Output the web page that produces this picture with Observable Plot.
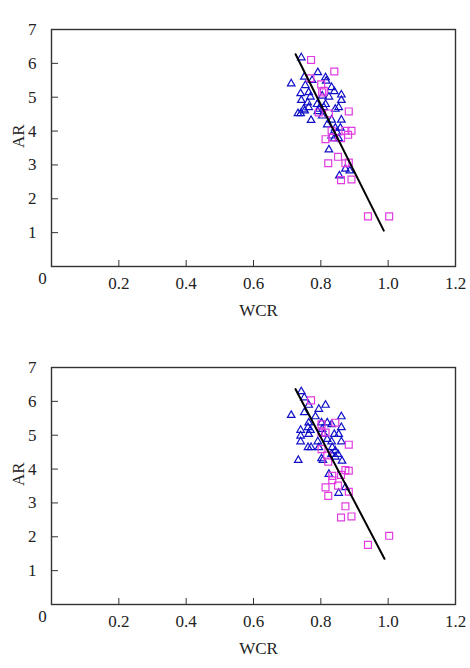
<!DOCTYPE html>
<html>
<head>
<meta charset="utf-8">
<script src="https://cdn.jsdelivr.net/npm/d3@7"></script>
<script src="https://cdn.jsdelivr.net/npm/@observablehq/plot@0.6"></script>
<style>
  html, body { margin: 0; padding: 0; background: #fff; }
  #wrap { position: relative; width: 470px; height: 668px; overflow: hidden; font-family: "Liberation Serif", serif; color: #222; }
  .panel { position: absolute; left: 0; }
  .plabel { position: absolute; left: 2px; font-size: 17px; }
</style>
</head>
<body>
<div id="wrap">
  <div class="plabel" style="top:4px">(<i>a</i>)</div>
  <div class="panel" id="pa" style="top:0px"></div>
  <div class="plabel" style="top:341px">(<i>b</i>)</div>
  <div class="panel" id="pb" style="top:338px"></div>
</div>
<script>
// ---- tick labels / titles ----
const xTicks = [0.2, 0.4, 0.6, 0.8, 1.0, 1.2];
const yTicks = [1, 2, 3, 4, 5, 6, 7];
const zeroTick = [0];
const xTitle = ["WCR"];
const yTitle = ["AR"];

// ---- panel (a) ----
const aTriX = [0.742,0.791,0.751,0.814,0.712,0.754,0.774,0.816,0.832,0.840,0.861,0.740,0.764,0.769,0.742,0.804,0.824,0.861,0.761,0.789,0.814,0.749,0.764,0.794,0.809,0.843,0.853,0.732,0.740,0.752,0.791,0.804,0.771,0.832,0.861,0.819,0.843,0.858,0.848,0.832,0.840,0.853,0.824,0.873,0.886,0.855];
const aTriY = [6.17,5.73,5.60,5.58,5.40,5.35,5.50,5.48,5.29,5.17,5.07,5.11,5.14,5.01,4.91,5.04,5.01,4.91,4.84,4.79,4.79,4.65,4.70,4.65,4.70,4.65,4.70,4.52,4.52,4.60,4.58,4.45,4.32,4.33,4.33,4.19,4.09,4.09,3.96,3.86,3.78,3.78,3.45,2.88,2.83,2.68];
const aSqX = [0.771,0.840,0.801,0.769,0.804,0.809,0.824,0.794,0.883,0.832,0.873,0.891,0.881,0.834,0.860,0.814,0.851,0.822,0.873,0.883,0.860,0.891,0.940,1.003];
const aSqY = [6.10,5.76,5.38,5.56,5.14,5.19,4.52,4.55,4.58,4.01,4.01,4.01,3.89,3.81,3.79,3.76,3.24,3.05,3.05,3.07,2.55,2.57,1.48,1.48];
const aLineX = [0.725, 0.987];
const aLineY = [6.27, 1.06];

// ---- panel (b) ----
const bTriX = [0.742,0.751,0.764,0.814,0.712,0.751,0.784,0.794,0.861,0.764,0.802,0.819,0.832,0.762,0.740,0.769,0.804,0.861,0.740,0.764,0.809,0.840,0.853,0.740,0.791,0.819,0.832,0.861,0.762,0.771,0.794,0.834,0.843,0.832,0.851,0.802,0.806,0.843,0.863,0.733,0.824,0.873,0.853];
const bTriY = [6.29,6.11,5.89,5.89,5.59,5.67,5.55,5.77,5.55,5.37,5.37,5.37,5.32,5.23,5.15,5.15,5.18,5.23,4.98,5.03,5.03,5.03,5.03,4.81,4.81,4.88,4.81,4.81,4.64,4.64,4.64,4.64,4.54,4.44,4.44,4.31,4.26,4.36,4.24,4.26,3.85,3.46,3.29];
const bSqX = [0.771,0.843,0.802,0.802,0.814,0.883,0.802,0.819,0.822,0.873,0.883,0.860,0.834,0.834,0.814,0.851,0.822,0.883,0.873,0.860,0.891,1.003,0.940];
const bSqY = [6.03,5.37,5.32,5.08,5.08,4.72,4.59,4.40,4.22,3.97,3.95,3.83,3.80,3.67,3.46,3.51,3.21,3.33,2.90,2.57,2.60,2.03,1.76];
const bLineX = [0.725, 0.989];
const bLineY = [6.36, 1.35];

const triColor = "#1010c8";
const sqColor = "#e03ce0";
const ink = "#333";
const font = "'Liberation Serif', serif";

function toRows(xs, ys) { return xs.map((x, i) => ({x, y: ys[i]})); }

function panel(tri, sq, line, height) {
  return Plot.plot({
    width: 470,
    height,
    marginTop: 29,
    marginBottom: height - 266,
    marginLeft: 51,
    marginRight: 15,
    x: {domain: [0, 1.2]},
    y: {domain: [0, 7]},
    style: {fontFamily: font, fontSize: "17px", color: "#222", background: "white"},
    marks: [
      // inward ticks
      Plot.axisX(xTicks, {tickSize: 6, dy: -6, text: null, label: null, stroke: ink}),
      Plot.axisY(yTicks, {tickSize: 7, dx: 7, text: null, label: null, stroke: ink}),
      // tick labels
      Plot.axisX(xTicks, {tickSize: 0, tickPadding: 10, tickFormat: d3.format(".1f"), label: null, fontSize: 17}),
      Plot.axisY(yTicks, {tickSize: 0, tickPadding: 15, tickFormat: d3.format("d"), label: null, fontSize: 17}),
      Plot.text(zeroTick, {x: d => d, y: d => d, text: d => String(d), dx: -9, dy: 5, textAnchor: "middle", lineAnchor: "top", fontSize: 17}),
      Plot.text(yTitle, {frameAnchor: "left", text: d => d, rotate: -90, dx: -33, fontSize: 17}),
      Plot.text(xTitle, {frameAnchor: "bottom", text: d => d, dx: 5, dy: 49, fontSize: 17}),
      Plot.dot(tri, {x: "x", y: "y", symbol: "triangle", r: 2.8, stroke: triColor, strokeWidth: 1.2, fill: "none"}),
      Plot.dot(sq, {x: "x", y: "y", symbol: "square", r: 3.9, stroke: sqColor, strokeWidth: 1.2, fill: "none"}),
      Plot.line(line, {x: "x", y: "y", stroke: "#000", strokeWidth: 2}),
      Plot.frame({stroke: ink, strokeWidth: 1.4})
    ]
  });
}

document.getElementById("pa").append(panel(toRows(aTriX, aTriY), toRows(aSqX, aSqY), toRows(aLineX, aLineY), 338));
document.getElementById("pb").append(panel(toRows(bTriX, bTriY), toRows(bSqX, bSqY), toRows(bLineX, bLineY), 330));
</script>
</body>
</html>
